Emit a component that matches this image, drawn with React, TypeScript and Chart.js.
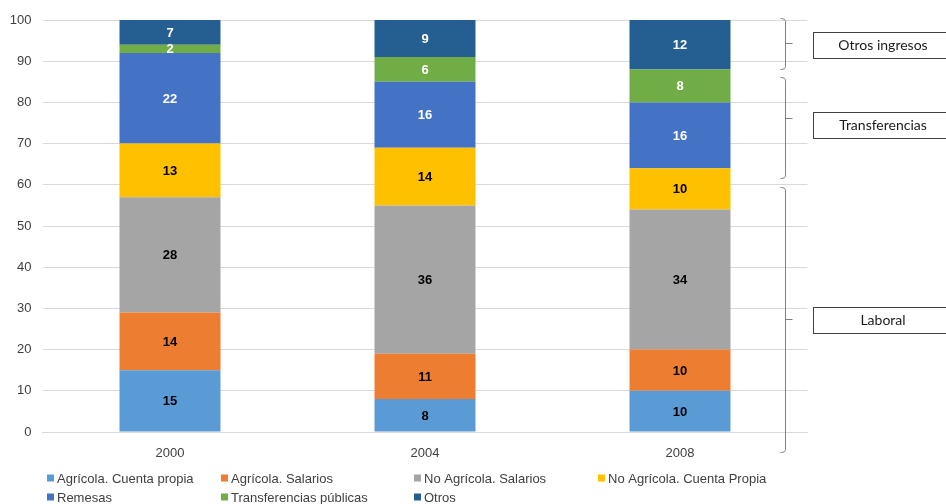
import React, { useEffect, useRef } from "react";
import { Chart, registerables } from "chart.js";

Chart.register(...registerables);

const years = ["2000", "2004", "2008"];
const agricolaCuentaPropia = [15, 8, 10];
const agricolaSalarios = [14, 11, 10];
const noAgricolaSalarios = [28, 36, 34];
const noAgricolaCuentaPropia = [13, 14, 10];
const remesas = [22, 16, 16];
const transferenciasPublicas = [2, 6, 8];
const otros = [7, 9, 12];

const seriesNames = [
  "Agrícola. Cuenta propia",
  "Agrícola. Salarios",
  "No Agrícola. Salarios",
  "No Agrícola. Cuenta Propia",
  "Remesas",
  "Transferencias públicas",
  "Otros",
];
const seriesColors = ["#5B9BD5", "#ED7D31", "#A5A5A5", "#FFC000", "#4472C4", "#70AD47", "#255E91"];
const labelColors = ["#000000", "#000000", "#000000", "#000000", "#FFFFFF", "#FFFFFF", "#FFFFFF"];
const yTicks = [0, 10, 20, 30, 40, 50, 60, 70, 80, 90, 100];

// Grouping braces: [top value, bottom value, tick value, label]
const groupLabels = ["Otros ingresos", "Transferencias", "Laboral"];
const braceTops = [100.5, 86.2, 59.5];
const braceBottoms = [88, 61.7, -4.9];
const braceMids = [94.3, 76.2, 27.4];
const boxCenters = [93.9, 74.5, 27.2];

export default function App() {
  const ref = useRef<HTMLCanvasElement | null>(null);

  useEffect(() => {
    document.body.style.margin = "0";
    const canvas = ref.current;
    if (!canvas) return;
    const allData = [
      agricolaCuentaPropia,
      agricolaSalarios,
      noAgricolaSalarios,
      noAgricolaCuentaPropia,
      remesas,
      transferenciasPublicas,
      otros,
    ];

    const valueLabels = {
      id: "valueLabels",
      afterDatasetsDraw(chart: any) {
        const ctx = chart.ctx;
        ctx.save();
        ctx.font = "bold 13px 'Liberation Sans', Arial, sans-serif";
        ctx.textAlign = "center";
        ctx.textBaseline = "middle";
        const area = chart.chartArea;
        chart.data.datasets.forEach((ds: any, i: number) => {
          const meta = chart.getDatasetMeta(i);
          meta.data.forEach((el: any, j: number) => {
            const top = Math.max(el.y, area.top);
            const bottom = Math.min(el.base, area.bottom);
            ctx.fillStyle = labelColors[i];
            ctx.fillText(String(ds.data[j]), el.x, (top + bottom) / 2 + 1);
          });
        });
        ctx.restore();
      },
    };

    const annotations = {
      id: "annotations",
      afterDraw(chart: any) {
        const ctx = chart.ctx;
        const ys = chart.scales.y;
        ctx.save();
        // braces
        ctx.strokeStyle = "#7F7F7F";
        ctx.lineWidth = 1;
        const bx = 785.5;
        for (let i = 0; i < groupLabels.length; i++) {
          const t = Math.round(ys.getPixelForValue(braceTops[i])) + 0.5;
          const b = Math.round(ys.getPixelForValue(braceBottoms[i])) + 0.5;
          const m = Math.round(ys.getPixelForValue(braceMids[i])) + 0.5;
          ctx.beginPath();
          ctx.moveTo(bx - 5, t);
          ctx.quadraticCurveTo(bx, t, bx, t + 3);
          ctx.lineTo(bx, b - 3);
          ctx.quadraticCurveTo(bx, b, bx - 5, b);
          ctx.moveTo(bx, m);
          ctx.lineTo(bx + 7, m);
          ctx.stroke();
        }
        // boxes
        ctx.strokeStyle = "#404040";
        ctx.lineWidth = 1;
        ctx.font = "14px Lato, 'Open Sans', sans-serif";
        ctx.fillStyle = "#1A1A1A";
        ctx.textAlign = "center";
        ctx.textBaseline = "middle";
        for (let i = 0; i < groupLabels.length; i++) {
          const c = ys.getPixelForValue(boxCenters[i]);
          const top = Math.round(c - 13) + 0.5;
          ctx.strokeRect(813.5, top, 140, 26);
          ctx.fillText(groupLabels[i], 883, top + 13);
        }
        // legend
        const colsX = [47, 221, 414, 598];
        const rowsY = [478, 497];
        ctx.font = "13px 'Liberation Sans', Arial, sans-serif";
        ctx.textAlign = "left";
        ctx.textBaseline = "middle";
        chart.data.datasets.forEach((ds: any, i: number) => {
          const x = colsX[i % 4];
          const y = rowsY[Math.floor(i / 4)];
          ctx.fillStyle = ds.backgroundColor;
          ctx.fillRect(x, y - 3.5, 7, 7);
          ctx.fillStyle = "#404040";
          ctx.fillText(ds.label, x + 10, y + 1);
        });
        ctx.restore();
      },
    };

    const chart = new Chart(canvas, {
      type: "bar",
      data: {
        labels: years,
        datasets: allData.map((d, i) => ({
          label: seriesNames[i],
          data: d,
          backgroundColor: seriesColors[i],
          borderWidth: 0,
          barPercentage: 0.396,
          categoryPercentage: 1,
        })),
      },
      options: {
        responsive: false,
        animation: false,
        layout: { padding: { left: 0, right: 138.5, top: 20, bottom: 42 } },
        plugins: {
          legend: { display: false },
          tooltip: { enabled: false },
        },
        scales: {
          x: {
            stacked: true,
            grid: { display: false },
            border: { display: true, color: "#D9D9D9" },
            ticks: {
              color: "#404040",
              font: { family: "'Liberation Sans', Arial, sans-serif", size: 13 },
              padding: 6,
            },
            afterFit(scale: any) {
              scale.height = 30;
            },
          },
          y: {
            stacked: true,
            min: 0,
            max: 100,
            afterBuildTicks(scale: any) {
              scale.ticks = yTicks.map((v) => ({ value: v }));
            },
            grid: { color: "#D9D9D9", drawTicks: false },
            border: { display: false },
            ticks: {
              color: "#404040",
              font: { family: "'Liberation Sans', Arial, sans-serif", size: 13 },
              padding: 11,
            },
            afterFit(scale: any) {
              scale.width = 42.5;
            },
          },
        },
      },
      plugins: [valueLabels, annotations],
    });
    return () => chart.destroy();
  }, []);

  return (
    <div style={{ position: "absolute", left: 0, top: 0, width: 946, height: 504 }}>
      <canvas ref={ref} width={946} height={504} />
    </div>
  );
}
